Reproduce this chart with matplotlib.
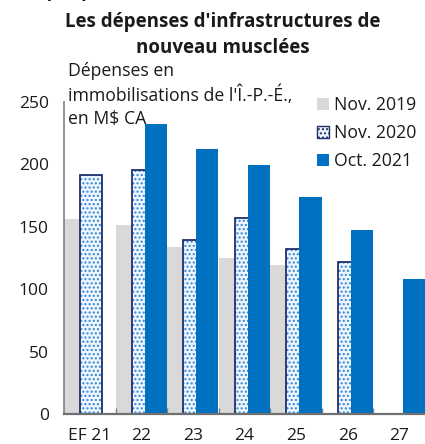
# Bar chart: PEI capital spending plans, three budget vintages overlapped per fiscal year.
import numpy as np
import matplotlib
matplotlib.use("Agg")
import matplotlib.pyplot as plt

plt.rcParams["font.family"] = ["Open Sans", "DejaVu Sans"]

years = ["EF 21", "22", "23", "24", "25", "26", "27"]
nov_2019 = [156, 151, 134, 125, 119, np.nan, np.nan]
nov_2020 = [191, 195, 139, 157, 132, 122, np.nan]
oct_2021 = [np.nan, 232, 212, 199, 174, 147, 108]

GREY = "#d9d9d9"
BLUE = "#0070c0"
NAVY = "#1f2f6b"
DOT = "#2f86d4"
TXT = "#1a1a1a"

fig = plt.figure(figsize=(4.25, 4.44), dpi=100)
ax = fig.add_axes([64 / 425, 30 / 444, 361 / 425, 312.5 / 444])

x = np.arange(len(years))
w = 0.43
ax.bar(x - 0.5, nov_2019, w, align="edge", color=GREY, lw=0, zorder=1)
ax.bar(x - 0.19, nov_2020, w, align="edge", color="#eef5fc", edgecolor=DOT,
       hatch="....", lw=0, zorder=2)
ax.bar(x - 0.19, nov_2020, w, align="edge", fill=False, edgecolor=NAVY,
       lw=1.3, zorder=3)
ax.bar(x + 0.065, oct_2021, w, align="edge", color=BLUE, lw=0, zorder=4)

ax.set_xlim(-0.5, 6.5)
ax.set_ylim(0, 250)
ax.set_yticks(range(0, 251, 50))
ax.set_xticks(x)
ax.set_xticklabels(years)
ax.tick_params(axis="both", length=0, labelsize=12.5, labelcolor=TXT)
ax.tick_params(axis="x", pad=10)
ax.tick_params(axis="y", pad=11)
# small inward ticks at the category boundaries and at the top of the y axis
ax.set_xticks(x[1:] - 0.5, minor=True)
ax.tick_params(axis="x", which="minor", direction="in", length=4, color="#808080", width=1)
ax.set_yticks([250], minor=True)
ax.tick_params(axis="y", which="minor", direction="in", length=4, color="#808080", width=1)

for s in ("top", "right"):
    ax.spines[s].set_visible(False)
ax.spines["left"].set_color("#808080")
ax.spines["bottom"].set_color("#707070")
ax.spines["left"].set_linewidth(1.2)
ax.spines["bottom"].set_linewidth(1.6)
ax.spines["bottom"].set_zorder(6)

fig.text(0.035, 1 + 8 / 444, "Graphique 3", fontsize=13, fontweight="bold", color=TXT,
         ha="left", va="center")
fig.text(0.525, 1 - 35 / 444, "Les dépenses d'infrastructures de\nnouveau musclées",
         fontsize=13.5, fontweight="bold", color=TXT, ha="center", va="center",
         linespacing=1.38)
fig.text(68 / 425, 1 - 62 / 444, "Dépenses en\nimmobilisations de l'Î.-P.-É.,\nen M$ CA",
         fontsize=12.7, color=TXT, ha="left", va="top", linespacing=1.36)

handles = [
    plt.Rectangle((0, 0), 1, 1, color=GREY, lw=0),
    plt.Rectangle((0, 0), 1, 1, facecolor="#eef5fc", edgecolor=NAVY, hatch="....", lw=1),
    plt.Rectangle((0, 0), 1, 1, color=BLUE, lw=0),
]
fig.legend(handles, ["Nov. 2019", "Nov. 2020", "Oct. 2021"], loc="upper left",
           bbox_to_anchor=(301 / 425, 1 - 80 / 444), frameon=False, fontsize=12.7,
           handlelength=0.7, handleheight=0.7, handletextpad=0.25, labelspacing=0.58,
           labelcolor=TXT)

fig.savefig("out.png", dpi=100)
